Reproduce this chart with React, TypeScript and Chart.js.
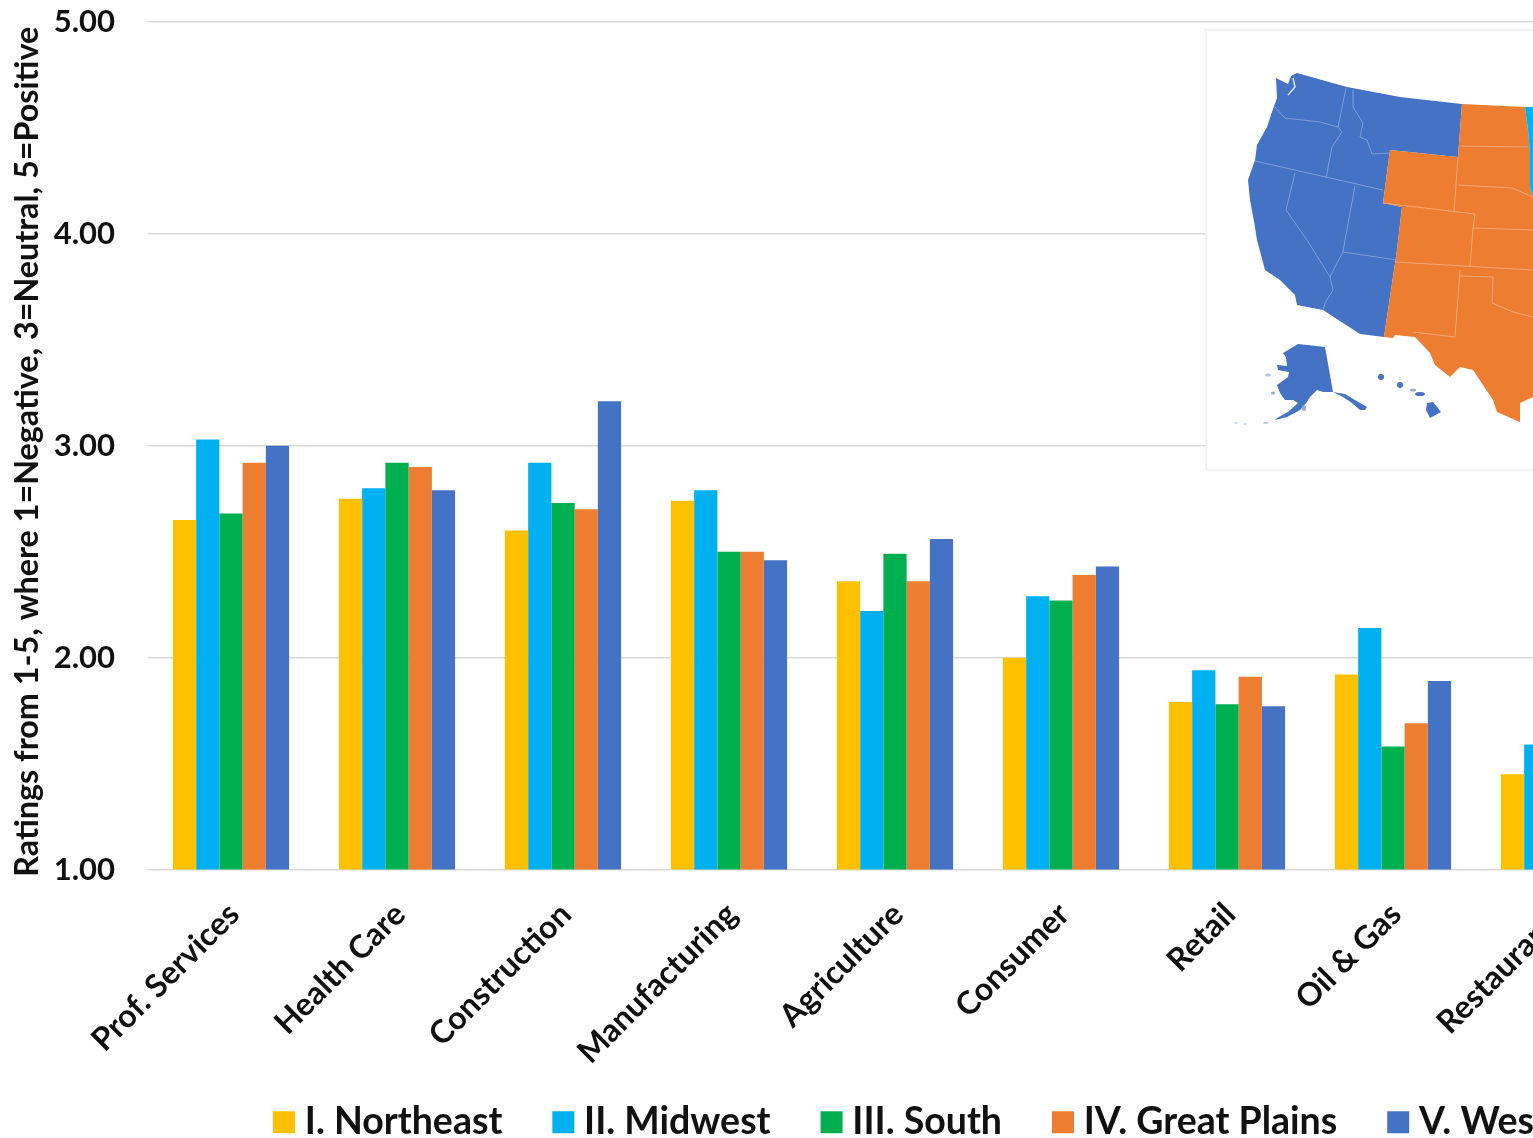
import React, { useEffect, useRef } from "react";
import { Chart, registerables } from "chart.js";

Chart.register(...registerables);

const categories = ["Prof. Services", "Health Care", "Construction", "Manufacturing", "Agriculture", "Consumer", "Retail", "Oil & Gas", "Restaurants"];
const northeast = [2.65, 2.75, 2.60, 2.74, 2.36, 2.00, 1.79, 1.92, 1.45];
const midwest = [3.03, 2.80, 2.92, 2.79, 2.22, 2.29, 1.94, 2.14, 1.59];
const south = [2.68, 2.92, 2.73, 2.50, 2.49, 2.27, 1.78, 1.58, 1.50];
const greatPlains = [2.92, 2.90, 2.70, 2.50, 2.36, 2.39, 1.91, 1.69, 1.45];
const west = [3.00, 2.79, 3.21, 2.46, 2.56, 2.43, 1.77, 1.89, 1.50];
const seriesNames = ["I. Northeast", "II. Midwest", "III. South", "IV. Great Plains", "V. West"];
const yTitle = "Ratings from 1-5, where 1=Negative, 3=Neutral, 5=Positive";

const FONT = "Lato, Carlito, sans-serif";
const INK = "#111111";
const BLUE = "#4472C4";
const ORANGE = "#ED7D31";
const CYAN = "#00B0F0";
const CANVAS_W = 1830;
const CANVAS_H = 1151;

const westShape = "1276,78 1288,84 1291,76 1297,73 1347,87 1400,97 1462,104 1458,157 1390,150 1383,203 1402,207 1397,250 1384,337 1360,334 1343,323 1323,310 1297,305 1295,295 1280,280 1265,270 1257,240 1255,227 1250,200 1248,180 1255,160 1257,145 1267,127 1274,106 1277,98";
const plainsShape = "1462,104 1525,107 1528,130 1530,153 1530,187 1533,197 1533,397 1520,403 1520,422 1497,412 1493,400 1473,370 1460,367 1450,377 1435,365 1430,353 1415,337 1395,335 1393,338 1384,337 1397,250 1402,207 1383,203 1390,150 1458,157";
const midwestShape = "1525,107 1533,107 1533,197 1530,187 1530,153 1528,130";
const alaskaShape = "1283,353 1298,344 1325,347 1333,392 1323,392 1317,390 1310,397 1307,402 1300,410 1287,417 1275,420 1277,418 1288,412 1298,403 1293,400 1285,400 1280,393 1277,385 1288,377 1289,372 1278,370 1277,365 1287,366 1286,357";
const panhandleShape = "1333,392 1345,394 1360,403 1367,407 1365,410 1360,410 1352,403 1343,397";
const hawaiiShape = "1427,403 1433,402 1441,412 1430,418 1426,410";
const westLines = [
  "1274,106 1285,118 1320,122 1338,127",
  "1346,88 1338,127 1342,132 1332,147 1326,178",
  "1353,90 1353,107 1363,123 1360,137 1367,140 1372,154 1390,153",
  "1255,161 1383,190",
  "1355,186 1345,240 1343,252",
  "1295,173 1286,210 1307,240 1330,277 1333,290 1325,303 1323,310",
  "1343,252 1397,260",
  "1343,252 1337,263 1330,277",
];
const plainsLines = [
  "1460,146 1528,147",
  "1458,185 1512,188 1533,197",
  "1458,157 1454,212",
  "1383,203 1475,214 1473,228 1533,230",
  "1473,228 1470,267",
  "1395,262 1533,270",
  "1460,270 1455,337 1413,332",
  "1460,276 1493,277 1492,303 1513,312 1533,317",
];

function RegionMap() {
  return (
    <svg width={1533} height={1138} style={{ position: "absolute", left: 0, top: 0, pointerEvents: "none", filter: "blur(0.6px)" }}>
      <rect x={1206} y={30} width={340} height={440} fill="#ffffff" stroke="#f0f0f0" strokeWidth={1.5} />
      <polygon points={westShape} fill={BLUE} />
      <polygon points={plainsShape} fill={ORANGE} />
      <polygon points={midwestShape} fill={CYAN} />
      <polygon points={alaskaShape} fill={BLUE} />
      <polygon points={panhandleShape} fill={BLUE} />
      <polygon points={hawaiiShape} fill={BLUE} />
      <circle cx={1381} cy={377} r={3} fill={BLUE} />
      <circle cx={1400} cy={385} r={3} fill={BLUE} />
      <ellipse cx={1420} cy={394} rx={5} ry={2} fill={BLUE} />
      <ellipse cx={1413} cy={390} rx={3} ry={1.5} fill="#8fa9dc" />
      <ellipse cx={1304} cy={408} rx={2} ry={3} fill="#8fa9dc" />
      <ellipse cx={1268} cy={375} rx={3} ry={1.5} fill="#b5c7e8" />
      <ellipse cx={1273} cy={393} rx={2} ry={1.5} fill="#8fa9dc" />
      <ellipse cx={1266} cy={423} rx={3} ry={1} fill="#b5c7e8" />
      <ellipse cx={1245} cy={424} rx={2} ry={1} fill="#cfdaf0" />
      <ellipse cx={1236} cy={423} rx={2} ry={1} fill="#cfdaf0" />
      <polyline points="1293,78 1295,87 1288,95" fill="none" stroke="#dfe6f5" strokeWidth={1.5} />
      {westLines.map((p, i) => <polyline key={i} points={p} fill="none" stroke="#7f9fdc" strokeWidth={1} />)}
      {plainsLines.map((p, i) => <polyline key={i} points={p} fill="none" stroke="#f3a877" strokeWidth={1} />)}
    </svg>
  );
}

const layoutTweaks = {
  id: "layoutTweaks",
  afterLayout(chart: any) {
    chart.legend.left = 0;
    chart.legend.right = 1830;
    chart.scales.x.bottom += 40;
    const y = chart.scales.y;
    if (!y.__shifted) {
      y.__shifted = true;
      const drawTitle = y.drawTitle;
      y.drawTitle = function () {
        this.ctx.save();
        this.ctx.translate(0, 6);
        drawTitle.call(this);
        this.ctx.restore();
      };
    }
  },
};

export default function App() {
  const ref = useRef<HTMLCanvasElement | null>(null);
  useEffect(() => {
    if (!ref.current) return;
    const colors = ["#FFC000", CYAN, "#00B050", ORANGE, BLUE];
    const values = [northeast, midwest, south, greatPlains, west];
    const chart = new Chart(ref.current, {
      type: "bar",
      data: {
        labels: categories,
        datasets: seriesNames.map((label, i) => ({
          label,
          data: values[i],
          backgroundColor: colors[i],
          borderWidth: 0,
          categoryPercentage: 0.7,
          barPercentage: 1,
        })),
      },
      plugins: [layoutTweaks],
      options: {
        responsive: false,
        animation: false,
        devicePixelRatio: 1,
        layout: { padding: { top: 22, right: CANVAS_W - 1642, left: 0, bottom: 0 } },
        plugins: {
          tooltip: { enabled: false },
          title: { display: false },
          legend: {
            position: "bottom",
            labels: {
              usePointStyle: true,
              pointStyle: "rect",
              boxWidth: 4,
              boxHeight: 22,
              padding: 59,
              color: INK,
              font: { family: FONT, size: 37.5, weight: "700" },
            },
          },
        },
        scales: {
          x: {
            grid: { display: false, drawTicks: false },
            border: { display: false },
            afterFit: (s: any) => { s.height = 175; },
            ticks: {
              autoSkip: false,
              maxRotation: 45,
              minRotation: 45,
              padding: 26,
              labelOffset: 3,
              color: INK,
              font: { family: FONT, size: 32, weight: "700" },
            },
          },
          y: {
            min: 1,
            max: 5,
            afterFit: (s: any) => { s.width = 148; },
            grid: { color: "#d9d9d9", lineWidth: 1.5, drawTicks: true, tickLength: 33, tickColor: "rgba(0,0,0,0)" },
            border: { display: false },
            title: {
              display: true,
              text: yTitle,
              color: INK,
              padding: { top: 8, bottom: 0 },
              font: { family: FONT, size: 32.3, weight: "700" },
            },
            ticks: {
              stepSize: 1,
              padding: 0,
              color: INK,
              font: { family: FONT, size: 31, weight: "700" },
              callback: (v: any) => Number(v).toFixed(2),
            },
          },
        },
      },
    } as any);
    return () => chart.destroy();
  }, []);
  return (
    <div style={{ position: "fixed", left: 0, top: 0, width: 1533, height: 1138, overflow: "hidden", background: "#fff" }}>
      <canvas ref={ref} width={CANVAS_W} height={CANVAS_H} style={{ position: "absolute", left: 0, top: 0, filter: "blur(0.6px)" }} />
      <RegionMap />
    </div>
  );
}
